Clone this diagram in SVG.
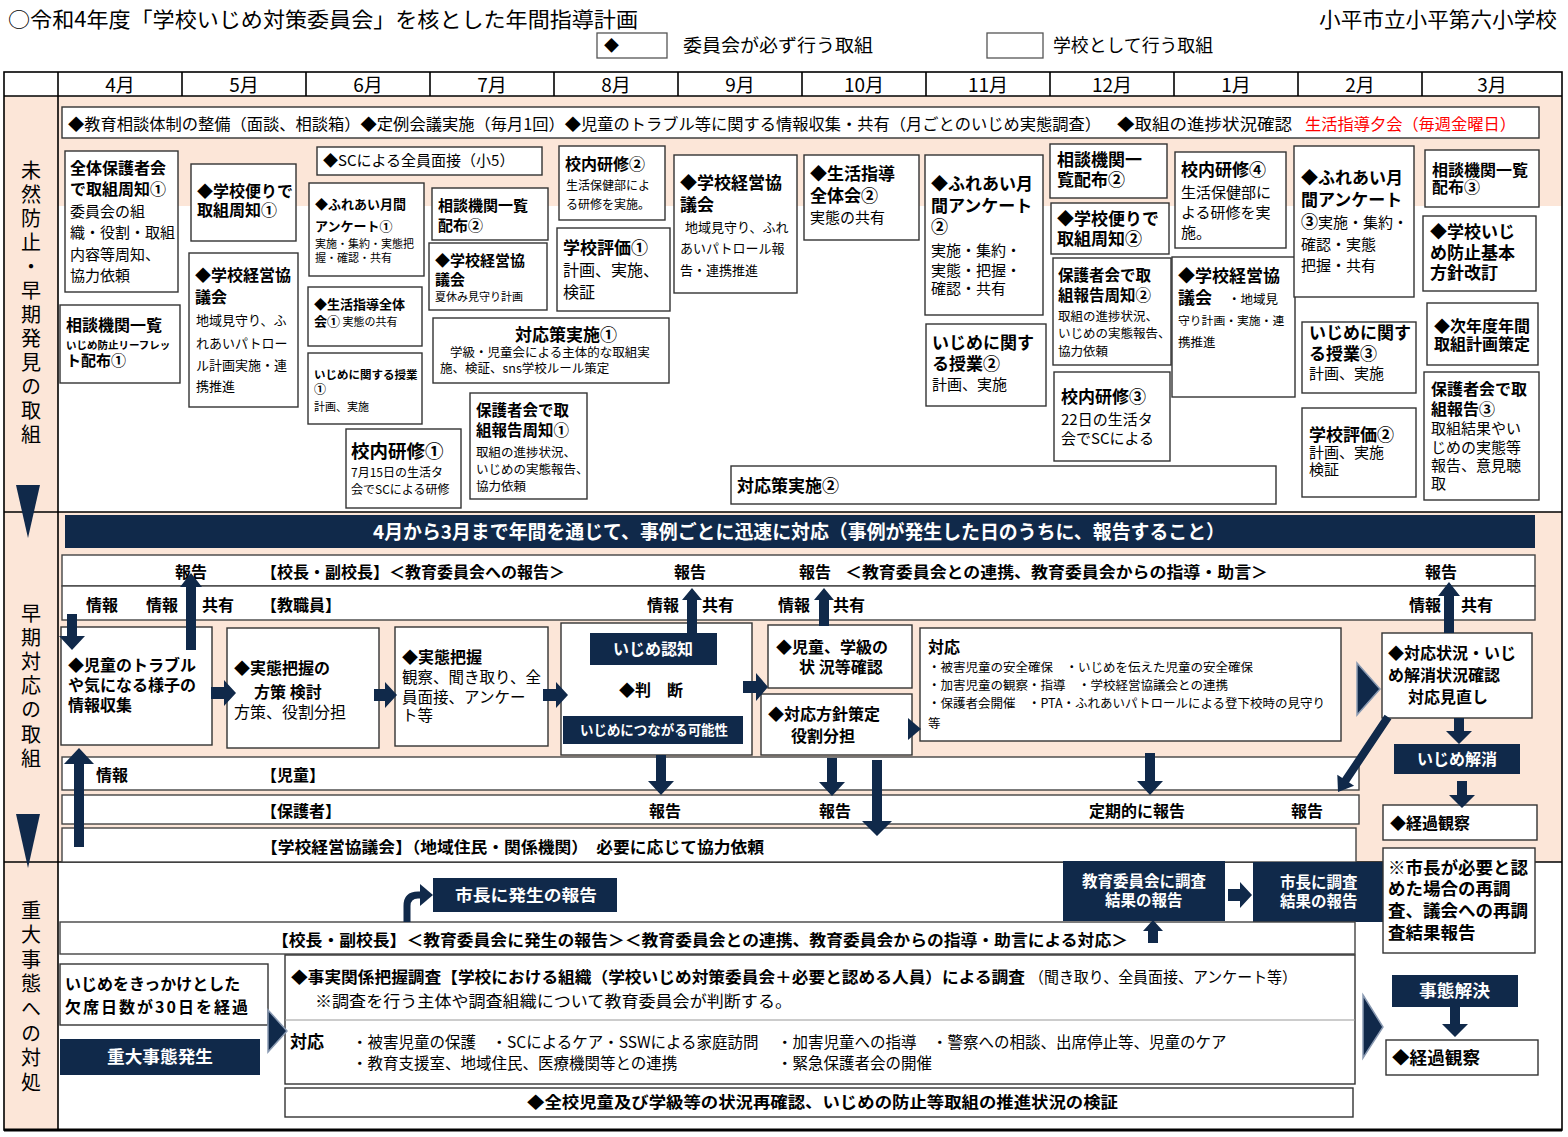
<svg xmlns="http://www.w3.org/2000/svg" width="1568" height="1137" viewBox="0 0 1568 1137">
<style>
text{font-family:'Noto Sans CJK JP','Noto Sans CJK SC','Noto Sans',sans-serif;fill:#000}
.b{font-weight:700}
.bx{fill:#fff;stroke:#333;stroke-width:1.4}
.rw{fill:#fff;stroke:#444;stroke-width:1.4}
.nv{fill:#10294a}
.ar{fill:#10294a}
.cv{fill:#10294a;stroke:#8a9ab2;stroke-width:1.5}
text.wt{fill:#fff}
text.rd{fill:#ff0000}
.pc{fill:#fce6d8}
.ln{stroke:#000;stroke-width:1.6;fill:none}
.vt{writing-mode:vertical-rl;font-size:20px}
</style>
<rect x="0" y="0" width="1568" height="1137" fill="#fff"/>

<g id="header">
<text x="8" y="27" font-size="21" textLength="630" lengthAdjust="spacingAndGlyphs">○令和4年度「学校いじめ対策委員会」を核とした年間指導計画</text>
<text x="1319" y="27" font-size="21" textLength="238" lengthAdjust="spacingAndGlyphs">小平市立小平第六小学校</text>
<rect x="597" y="33" width="70" height="25" fill="#fff" stroke="#555" stroke-width="1.3"/>
<text x="604" y="51" font-size="15">◆</text>
<text x="683" y="52" font-size="18" textLength="190" lengthAdjust="spacingAndGlyphs">委員会が必ず行う取組</text>
<rect x="987" y="33" width="56" height="25" fill="#fff" stroke="#555" stroke-width="1.3"/>
<text x="1053" y="52" font-size="18" textLength="160" lengthAdjust="spacingAndGlyphs">学校として行う取組</text>
</g>

<g id="table">
<rect x="4" y="96" width="54" height="1034" class="pc"/>
<rect x="58" y="96" width="1504" height="110" class="pc"/>
<rect x="58" y="512" width="1504" height="350" class="pc"/>
<rect x="4" y="72" width="1558" height="1058" class="ln"/>
<line x1="4" y1="96" x2="1562" y2="96" class="ln"/>
<line x1="58" y1="72" x2="58" y2="1130" class="ln"/>
<line x1="4" y1="512" x2="1562" y2="512" class="ln"/>
<line x1="4" y1="862" x2="1562" y2="862" class="ln"/>
<line x1="4" y1="1130" x2="1562" y2="1130" stroke="#000" stroke-width="3"/>
<g class="ln">
<line x1="182" y1="72" x2="182" y2="96"/><line x1="306" y1="72" x2="306" y2="96"/><line x1="430" y1="72" x2="430" y2="96"/><line x1="554" y1="72" x2="554" y2="96"/><line x1="678" y1="72" x2="678" y2="96"/><line x1="802" y1="72" x2="802" y2="96"/><line x1="926" y1="72" x2="926" y2="96"/><line x1="1050" y1="72" x2="1050" y2="96"/><line x1="1174" y1="72" x2="1174" y2="96"/><line x1="1298" y1="72" x2="1298" y2="96"/><line x1="1422" y1="72" x2="1422" y2="96"/>
</g>
<g font-size="19" text-anchor="middle">
<text x="120" y="92">4月</text><text x="244" y="92">5月</text><text x="368" y="92">6月</text><text x="492" y="92">7月</text><text x="616" y="92">8月</text><text x="740" y="92">9月</text><text x="864" y="92">10月</text><text x="988" y="92">11月</text><text x="1112" y="92">12月</text><text x="1236" y="92">1月</text><text x="1360" y="92">2月</text><text x="1492" y="92">3月</text>
</g>
<text class="vt" x="31" y="160" letter-spacing="4">未然防止・早期発見の取組</text>
<text class="vt" x="31" y="603" letter-spacing="4.2">早期対応の取組</text>
<text class="vt" x="31" y="900" letter-spacing="4.6">重大事態への対処</text>
<polygon points="16,485 40,485 28,538" class="ar"/>
<polygon points="16,814 40,814 28,868" class="ar"/>
</g>

<g id="s1-banner">
<rect x="62" y="107" width="1477" height="31" class="bx"/>
<text x="68" y="130" font-size="16" textLength="1033" lengthAdjust="spacingAndGlyphs">◆教育相談体制の整備（面談、相談箱）◆定例会議実施（毎月1回）◆児童のトラブル等に関する情報収集・共有（月ごとのいじめ実態調査）</text>
<text x="1117" y="130" font-size="16" textLength="175" lengthAdjust="spacingAndGlyphs">◆取組の進捗状況確認</text>
<text x="1305" y="130" font-size="16" class="rd" textLength="211" lengthAdjust="spacingAndGlyphs">生活指導夕会（毎週金曜日）</text>
</g>
<g id="n1"><rect x="65" y="151" width="113" height="141" class="bx"/>
<text font-size="15"><tspan x="70" y="174" class="b" font-size="16">全体保護者会</tspan><tspan x="70" y="195" class="b" font-size="16">で取組周知①</tspan><tspan x="70" y="217">委員会の組</tspan><tspan x="70" y="238">織・役割・取組</tspan><tspan x="70" y="260">内容等周知、</tspan><tspan x="70" y="281">協力依頼</tspan></text></g>
<g id="n2"><rect x="60" y="305" width="120" height="78" class="bx"/>
<text class="b" font-size="16"><tspan x="66" y="331">相談機関一覧</tspan><tspan x="66" y="349" font-size="10.5">いじめ防止リーフレッ</tspan><tspan x="66" y="366" font-size="15">ト配布①</tspan></text></g>
<g id="n3"><rect x="191" y="164" width="105" height="77" class="bx"/>
<text class="b" font-size="16"><tspan x="197" y="197">◆学校便りで</tspan><tspan x="197" y="216">取組周知①</tspan></text></g>
<g id="n4"><rect x="189" y="253" width="109" height="154" class="bx"/>
<text font-size="13"><tspan x="195" y="281" class="b" font-size="16">◆学校経営協</tspan><tspan x="195" y="303" class="b" font-size="16">議会</tspan><tspan x="196" y="325">地域見守り、ふ</tspan><tspan x="196" y="348">れあいパトロー</tspan><tspan x="196" y="370">ル計画実施・連</tspan><tspan x="196" y="391">携推進</tspan></text></g>
<g id="n5"><rect x="317" y="147" width="225" height="28" class="bx"/>
<text x="323" y="166" font-size="15">◆SCによる全員面接（小5）</text></g>
<g id="n6"><rect x="309" y="183" width="115" height="93" class="bx"/>
<text font-size="11"><tspan x="315" y="209" class="b" font-size="13">◆ふれあい月間</tspan><tspan x="315" y="231" class="b" font-size="13">アンケート①</tspan><tspan x="315" y="248">実施・集約・実態把</tspan><tspan x="315" y="262">握・確認・共有</tspan></text></g>
<g id="n7"><rect x="308" y="287" width="114" height="59" class="bx"/>
<text font-size="13" class="b"><tspan x="314" y="309">◆生活指導全体</tspan><tspan x="314" y="326">会①</tspan><tspan font-size="11" font-weight="400"> 実態の共有</tspan></text></g>
<g id="n8"><rect x="308" y="353" width="114" height="71" class="bx"/>
<text font-size="11"><tspan x="314" y="379" class="b" font-size="11.5">いじめに関する授業</tspan><tspan x="314" y="394" class="b" font-size="12">①</tspan><tspan x="314" y="411">計画、実施</tspan></text></g>
<g id="n9"><rect x="346" y="429" width="115" height="79" class="bx"/>
<text font-size="12"><tspan x="351" y="458" class="b" font-size="18.5">校内研修①</tspan><tspan x="351" y="477">7月15日の生活タ</tspan><tspan x="351" y="494">会でSCによる研修</tspan></text></g>
<g id="n10"><rect x="432" y="188" width="116" height="52" class="bx"/>
<text class="b" font-size="15"><tspan x="438" y="211">相談機関一覧</tspan><tspan x="438" y="231">配布②</tspan></text></g>
<g id="n11"><rect x="429" y="243" width="118" height="67" class="bx"/>
<text font-size="11"><tspan x="435" y="266" class="b" font-size="15">◆学校経営協</tspan><tspan x="435" y="285" class="b" font-size="15">議会</tspan><tspan x="435" y="301">夏休み見守り計画</tspan></text></g>
<g id="n12"><rect x="433" y="318" width="236" height="65" class="bx"/>
<text font-size="12.5"><tspan x="515" y="341" class="b" font-size="17">対応策実施①</tspan><tspan x="450" y="357">学級・児童会による主体的な取組実</tspan><tspan x="440" y="373">施、検証、sns学校ルール策定</tspan></text></g>
<g id="n13"><rect x="470" y="393" width="117" height="106" class="bx"/>
<text font-size="12.5"><tspan x="476" y="416" class="b" font-size="15.5">保護者会で取</tspan><tspan x="476" y="436" class="b" font-size="15.5">組報告周知①</tspan><tspan x="476" y="457">取組の進捗状況、</tspan><tspan x="476" y="474">いじめの実態報告、</tspan><tspan x="476" y="491">協力依頼</tspan></text></g>
<g id="n14"><rect x="559" y="146" width="106" height="74" class="bx"/>
<text font-size="12"><tspan x="565" y="170" class="b" font-size="16">校内研修②</tspan><tspan x="566" y="190">生活保健部によ</tspan><tspan x="566" y="209">る研修を実施。</tspan></text></g>
<g id="n15"><rect x="557" y="228" width="113" height="83" class="bx"/>
<text font-size="16"><tspan x="563" y="254" class="b" font-size="17">学校評価①</tspan><tspan x="563" y="276">計画、実施、</tspan><tspan x="563" y="298">検証</tspan></text></g>
<g id="n16"><rect x="674" y="155" width="123" height="138" class="bx"/>
<text font-size="13"><tspan x="680" y="189" class="b" font-size="17">◆学校経営協</tspan><tspan x="680" y="211" class="b" font-size="17">議会</tspan><tspan x="685" y="232">地域見守り、ふれ</tspan><tspan x="680" y="253">あいパトロール報</tspan><tspan x="680" y="275">告・連携推進</tspan></text></g>
<g id="n17"><rect x="804" y="155" width="115" height="85" class="bx"/>
<text font-size="15"><tspan x="810" y="180" class="b" font-size="17">◆生活指導</tspan><tspan x="810" y="202" class="b" font-size="17">全体会②</tspan><tspan x="810" y="223">実態の共有</tspan></text></g>
<g id="n18"><rect x="925" y="155" width="118" height="160" class="bx"/>
<text font-size="15"><tspan x="931" y="190" class="b" font-size="17">◆ふれあい月</tspan><tspan x="931" y="212" class="b" font-size="17">間アンケート</tspan><tspan x="931" y="233" class="b" font-size="17">②</tspan><tspan x="931" y="256">実施・集約・</tspan><tspan x="931" y="276">実態・把握・</tspan><tspan x="931" y="294">確認・共有</tspan></text></g>
<g id="n19"><rect x="926" y="324" width="120" height="82" class="bx"/>
<text font-size="15"><tspan x="932" y="349" class="b" font-size="17">いじめに関す</tspan><tspan x="932" y="370" class="b" font-size="17">る授業②</tspan><tspan x="932" y="390">計画、実施</tspan></text></g>
<g id="n20"><rect x="1050" y="144" width="117" height="54" class="bx"/>
<text class="b" font-size="17"><tspan x="1057" y="166">相談機関一</tspan><tspan x="1057" y="186">覧配布②</tspan></text></g>
<g id="n21"><rect x="1051" y="203" width="118" height="51" class="bx"/>
<text class="b" font-size="17"><tspan x="1057" y="225">◆学校便りで</tspan><tspan x="1057" y="245">取組周知②</tspan></text></g>
<g id="n22"><rect x="1053" y="258" width="118" height="107" class="bx"/>
<text font-size="12.5"><tspan x="1058" y="281" class="b" font-size="15.5">保護者会で取</tspan><tspan x="1058" y="301" class="b" font-size="15.5">組報告周知②</tspan><tspan x="1058" y="321">取組の進捗状況、</tspan><tspan x="1058" y="338">いじめの実態報告、</tspan><tspan x="1058" y="356">協力依頼</tspan></text></g>
<g id="n23"><rect x="1054" y="372" width="116" height="89" class="bx"/>
<text font-size="15"><tspan x="1061" y="403" class="b" font-size="17">校内研修③</tspan><tspan x="1061" y="425">22日の生活タ</tspan><tspan x="1061" y="444">会でSCによる</tspan></text></g>
<g id="n24"><rect x="1175" y="152" width="111" height="96" class="bx"/>
<text font-size="15"><tspan x="1181" y="176" class="b" font-size="17">校内研修④</tspan><tspan x="1181" y="198">生活保健部に</tspan><tspan x="1181" y="218">よる研修を実</tspan><tspan x="1181" y="238">施。</tspan></text></g>
<g id="n25"><rect x="1172" y="257" width="123" height="140" class="bx"/>
<text font-size="12.5"><tspan x="1178" y="282" class="b" font-size="17">◆学校経営協</tspan><tspan x="1178" y="304" class="b" font-size="17">議会</tspan><tspan x="1228" y="304">・地域見</tspan><tspan x="1178" y="325" font-size="11.8">守り計画・実施・連</tspan><tspan x="1178" y="347">携推進</tspan></text></g>
<g id="n26"><rect x="1294" y="146" width="120" height="151" class="bx"/>
<text font-size="15"><tspan x="1301" y="184" class="b" font-size="17">◆ふれあい月</tspan><tspan x="1301" y="206" class="b" font-size="17">間アンケート</tspan><tspan x="1301" y="228" class="b" font-size="17">③</tspan><tspan>実施・集約・</tspan><tspan x="1301" y="250">確認・実態</tspan><tspan x="1301" y="271">把握・共有</tspan></text></g>
<g id="n27"><rect x="1425" y="150" width="114" height="57" class="bx"/>
<text class="b" font-size="16"><tspan x="1432" y="176">相談機関一覧</tspan><tspan x="1432" y="193">配布③</tspan></text></g>
<g id="n28"><rect x="1423" y="216" width="113" height="75" class="bx"/>
<text class="b" font-size="17"><tspan x="1430" y="238">◆学校いじ</tspan><tspan x="1430" y="259">め防止基本</tspan><tspan x="1430" y="279">方針改訂</tspan></text></g>
<g id="n29"><rect x="1302" y="322" width="114" height="71" class="bx"/>
<text font-size="15"><tspan x="1309" y="339" class="b" font-size="17">いじめに関す</tspan><tspan x="1309" y="360" class="b" font-size="17">る授業③</tspan><tspan x="1309" y="379">計画、実施</tspan></text></g>
<g id="n30"><rect x="1302" y="408" width="114" height="89" class="bx"/>
<text font-size="15"><tspan x="1309" y="441" class="b" font-size="17">学校評価②</tspan><tspan x="1309" y="458">計画、実施</tspan><tspan x="1309" y="475">検証</tspan></text></g>
<g id="n31"><rect x="1427" y="303" width="111" height="62" class="bx"/>
<text class="b" font-size="16"><tspan x="1434" y="332">◆次年度年間</tspan><tspan x="1434" y="350">取組計画策定</tspan></text></g>
<g id="n32"><rect x="1424" y="372" width="115" height="128" class="bx"/>
<text font-size="15"><tspan x="1431" y="395" class="b" font-size="16">保護者会で取</tspan><tspan x="1431" y="415" class="b" font-size="16">組報告③</tspan><tspan x="1431" y="434">取組結果やい</tspan><tspan x="1431" y="453">じめの実態等</tspan><tspan x="1431" y="471">報告、意見聴</tspan><tspan x="1431" y="489">取</tspan></text></g>
<g id="n33"><rect x="731" y="466" width="545" height="38" class="bx"/>
<text x="737" y="492" font-size="17" class="b">対応策実施②</text></g>

<g id="s2-banner"><rect x="65" y="515" width="1470" height="33" class="nv"/>
<text x="373" y="539" font-size="19" class="b wt" textLength="852" lengthAdjust="spacingAndGlyphs">4月から3月まで年間を通じて、事例ごとに迅速に対応（事例が発生した日のうちに、報告すること）</text></g>
<g id="row-kocho"><rect x="62" y="555" width="1473" height="31" class="rw"/>
<text x="175" y="578" font-size="16" class="b">報告</text><text x="261" y="578" font-size="16" class="b">【校長・副校長】＜教育委員会への報告＞</text><text x="674" y="578" font-size="16" class="b">報告</text><text x="799" y="578" font-size="16" class="b">報告</text>
<text x="845" y="578" font-size="16" class="b" textLength="423" lengthAdjust="spacingAndGlyphs">＜教育委員会との連携、教育委員会からの指導・助言＞</text><text x="1425" y="578" font-size="16" class="b">報告</text></g>
<g id="row-kyoshokuin"><rect x="62" y="586" width="1473" height="34" class="rw"/>
<text x="86" y="611" font-size="16" class="b">情報</text><text x="146" y="611" font-size="16" class="b">情報</text><text x="202" y="611" font-size="16" class="b">共有</text><text x="261" y="611" font-size="16" class="b">【教職員】</text>
<text x="647" y="611" font-size="16" class="b">情報</text><text x="702" y="611" font-size="16" class="b">共有</text><text x="778" y="611" font-size="16" class="b">情報</text><text x="833" y="611" font-size="16" class="b">共有</text><text x="1409" y="611" font-size="16" class="b">情報</text><text x="1461" y="611" font-size="16" class="b">共有</text></g>
<g id="row-jido"><rect x="62" y="757" width="1297" height="33" class="rw"/>
<text x="96" y="781" font-size="16" class="b">情報</text><text x="261" y="781" font-size="16" class="b">【児童】</text></g>
<g id="row-hogosha"><rect x="62" y="795" width="1297" height="29" class="rw"/>
<text x="261" y="817" font-size="16" class="b">【保護者】</text><text x="649" y="817" font-size="16" class="b">報告</text><text x="819" y="817" font-size="16" class="b">報告</text><text x="1089" y="817" font-size="16" class="b">定期的に報告</text><text x="1291" y="817" font-size="16" class="b">報告</text></g>
<g id="row-keiei"><rect x="62" y="828" width="1294" height="34" class="rw"/>
<text x="261" y="853" font-size="16" class="b" textLength="503" lengthAdjust="spacingAndGlyphs">【学校経営協議会】（地域住民・関係機関）　必要に応じて協力依頼</text></g>

<g id="a-joho"><rect x="61" y="627" width="151" height="118" class="bx"/>
<text font-size="16" class="b"><tspan x="68" y="671">◆児童のトラブル</tspan><tspan x="68" y="691">や気になる様子の</tspan><tspan x="68" y="711">情報収集</tspan></text></g>
<g id="b-hosaku"><rect x="227" y="628" width="152" height="120" class="bx"/>
<text font-size="16"><tspan x="234" y="674" class="b">◆実態把握の</tspan><tspan x="254" y="698" class="b">方策 検討</tspan><tspan x="234" y="718">方策、役割分担</tspan></text></g>
<g id="c-jittai"><rect x="395" y="627" width="153" height="119" class="bx"/>
<text font-size="15.5"><tspan x="402" y="663" class="b" font-size="16">◆実態把握</tspan><tspan x="402" y="683">観察、聞き取り、全</tspan><tspan x="402" y="703">員面接、アンケー</tspan><tspan x="402" y="721">ト等</tspan></text></g>
<g id="d-handan"><rect x="561" y="623" width="191" height="132" class="bx"/>
<rect x="590" y="633" width="127" height="32" class="nv"/><text x="653" y="655" font-size="16" class="b wt" text-anchor="middle">いじめ認知</text>
<text x="619" y="696" font-size="16" class="b">◆判　断</text>
<rect x="563" y="716" width="180" height="28" class="nv"/><text x="580" y="735" font-size="13.5" class="b wt" textLength="148" lengthAdjust="spacingAndGlyphs">いじめにつながる可能性</text></g>
<g id="e-kakunin"><rect x="768" y="625" width="144" height="63" class="bx"/>
<text font-size="16" class="b"><tspan x="776" y="653">◆児童、学級の</tspan><tspan x="799" y="673">状 況等確認</tspan></text></g>
<g id="f-hoshin"><rect x="761" y="694" width="151" height="61" class="bx"/>
<text font-size="16" class="b"><tspan x="768" y="720">◆対応方針策定</tspan><tspan x="791" y="742">役割分担</tspan></text></g>
<g id="g-taio"><rect x="920" y="628" width="421" height="113" class="bx"/>
<text font-size="12.5"><tspan x="928" y="653" class="b" font-size="16">対応</tspan><tspan x="928" y="672">・被害児童の安全確保　・いじめを伝えた児童の安全確保</tspan><tspan x="928" y="690">・加害児童の観察・指導　・学校経営協議会との連携</tspan><tspan x="928" y="708">・保護者会開催　・PTA・ふれあいパトロールによる登下校時の見守り</tspan><tspan x="928" y="728">等</tspan></text></g>
<g id="h-minaoshi"><rect x="1382" y="633" width="150" height="85" class="bx"/>
<text font-size="16" class="b"><tspan x="1388" y="659">◆対応状況・いじ</tspan><tspan x="1388" y="681">め解消状況確認</tspan><tspan x="1408" y="703">対応見直し</tspan></text></g>
<g id="i-kaisho"><rect x="1394" y="744" width="126" height="30" class="nv"/>
<text x="1457" y="765" font-size="16" class="b wt" text-anchor="middle">いじめ解消</text></g>
<g id="j-keika"><rect x="1383" y="805" width="154" height="35" class="bx"/>
<text x="1390" y="829" font-size="16" class="b">◆経過観察</text></g>

<g id="k-shicho"><rect x="433" y="878" width="184" height="34" class="nv"/>
<text x="455" y="901" font-size="16" class="b wt" textLength="142" lengthAdjust="spacingAndGlyphs">市長に発生の報告</text></g>
<g id="l-kyoiku"><rect x="1063" y="861" width="162" height="60" class="nv"/>
<text font-size="15.5" class="b wt"><tspan x="1082" y="887">教育委員会に調査</tspan><tspan x="1105" y="906">結果の報告</tspan></text></g>
<g id="m-shicho2"><rect x="1253" y="862" width="130" height="60" class="nv"/>
<text font-size="15.5" class="b wt"><tspan x="1280" y="888">市長に調査</tspan><tspan x="1280" y="907">結果の報告</tspan></text></g>
<g id="n-saichosa"><rect x="1383" y="848" width="152" height="105" class="bx"/>
<text font-size="17.5" class="b"><tspan x="1388" y="874">※市長が必要と認</tspan><tspan x="1388" y="895">めた場合の再調</tspan><tspan x="1388" y="917">査、議会への再調</tspan><tspan x="1388" y="939">査結果報告</tspan></text></g>
<g id="row-s3"><rect x="60" y="922" width="1295" height="32" class="rw"/>
<text x="272" y="946" font-size="16" class="b" textLength="856" lengthAdjust="spacingAndGlyphs">【校長・副校長】＜教育委員会に発生の報告＞＜教育委員会との連携、教育委員会からの指導・助言による対応＞</text></g>
<g id="o-kesseki"><rect x="60" y="964" width="208" height="61" class="bx"/>
<text font-size="16" class="b"><tspan x="65" y="990">いじめをきっかけとした</tspan><tspan x="65" y="1013" letter-spacing="2">欠席日数が30日を経過</tspan></text></g>
<g id="p-hassei"><rect x="60" y="1039" width="200" height="36" class="nv"/>
<text x="107" y="1063" font-size="17" class="b wt" textLength="106" lengthAdjust="spacingAndGlyphs">重大事態発生</text></g>
<g id="q-chosa"><rect x="285" y="955" width="1070" height="129" class="bx"/>
<line x1="285" y1="1020" x2="1355" y2="1020" stroke="#999" stroke-width="1.2"/>
<text x="291" y="983" font-size="16" class="b" textLength="734" lengthAdjust="spacingAndGlyphs">◆事実関係把握調査【学校における組織（学校いじめ対策委員会＋必要と認める人員）による調査</text>
<text x="1029" y="983" font-size="15.5" textLength="268" lengthAdjust="spacingAndGlyphs">（聞き取り、全員面接、アンケート等）</text>
<text x="315" y="1007" font-size="16" textLength="477" lengthAdjust="spacingAndGlyphs">※調査を行う主体や調査組織について教育委員会が判断する。</text>
<text x="290" y="1048" font-size="17" class="b">対応</text>
<text font-size="15.5"><tspan x="352" y="1048">・被害児童の保護　・SCによるケア・SSWによる家庭訪問</tspan><tspan x="777" y="1048">・加害児童への指導　・警察への相談、出席停止等、児童のケア</tspan><tspan x="352" y="1069">・教育支援室、地域住民、医療機関等との連携</tspan><tspan x="777" y="1069">・緊急保護者会の開催</tspan></text></g>
<g id="r-kensho"><rect x="285" y="1088" width="1068" height="29" class="bx"/>
<text x="527" y="1108" font-size="16" class="b" textLength="591" lengthAdjust="spacingAndGlyphs">◆全校児童及び学級等の状況再確認、いじめの防止等取組の推進状況の検証</text></g>
<g id="s-kaiketsu"><rect x="1392" y="975" width="126" height="32" class="nv"/>
<text x="1419" y="997" font-size="17" class="b wt" textLength="71" lengthAdjust="spacingAndGlyphs">事態解決</text></g>
<g id="t-keika"><rect x="1386" y="1040" width="152" height="35" class="bx"/>
<text x="1392" y="1064" font-size="17" class="b" textLength="88" lengthAdjust="spacingAndGlyphs">◆経過観察</text></g>

<g id="connectors">
<polygon class="ar" points="67,614 77,614 77,636 85,636 72,650 59,636 67,636"/>
<polygon class="ar" points="191,573 202,587 196,587 196,650 186,650 186,587 180,587"/>
<polygon class="ar" points="211,687 224,687 224,680 236,693 224,706 224,699 211,699"/>
<polygon class="ar" points="374,689 385,689 385,682 397,695 385,708 385,701 374,701"/>
<polygon class="ar" points="543,689 556,689 556,682 568,695 556,708 556,701 543,701"/>
<polygon class="ar" points="743,681 756,681 756,673 768,687 756,701 756,693 743,693"/>
<polygon class="ar" points="908,718 921,729 908,740"/>
<polygon class="cv" points="1357,663 1380,689 1357,715"/>
<polygon class="ar" points="692,588 702,600 697,600 697,633 687,633 687,600 682,600"/>
<polygon class="ar" points="824,588 834,600 829,600 829,626 819,626 819,600 814,600"/>
<polygon class="ar" points="656,755 666,755 666,781 674,781 661,795 648,781 656,781"/>
<polygon class="ar" points="827,758 837,758 837,782 845,782 832,796 819,782 827,782"/>
<polygon class="ar" points="872,760 882,760 882,821 892,821 877,836 862,821 872,821"/>
<polygon class="ar" points="1145,753 1155,753 1155,781 1163,781 1150,795 1137,781 1145,781"/>
<polygon class="ar" points="1391.4,719.2 1349.1,782.5 1354.1,785.8 1338,792 1337.3,774.8 1342.3,778.1 1384.6,714.8"/>
<polygon class="ar" points="1449,582 1460,596 1454,596 1454,633 1444,633 1444,596 1438,596"/>
<polygon class="ar" points="1454,718 1464,718 1464,731 1472,731 1459,744 1446,731 1454,731"/>
<polygon class="ar" points="1457,781 1467,781 1467,795 1475,795 1462,808 1449,795 1457,795"/>
<polygon class="ar" points="79,748 94,764 84,764 84,847 74,847 74,764 64,764"/>
<path d="M407,922 L407,906 Q407,895 418,895 L422,895" fill="none" stroke="#10294a" stroke-width="7"/>
<polygon class="ar" points="420,884 433,895 420,906"/>
<polygon class="ar" points="1228,889 1240,889 1240,882 1252,895 1240,908 1240,901 1228,901"/>
<polygon class="ar" points="1153,920 1163,931 1158,931 1158,943 1148,943 1148,931 1143,931"/>
<polygon class="cv" points="268,1010 287,1031 268,1052"/>
<polygon class="cv" points="1363,995 1383,1027 1363,1058"/>
<polygon class="ar" points="1450,1007 1460,1007 1460,1024 1468,1024 1455,1037 1442,1024 1450,1024"/>
</g>
</svg>
